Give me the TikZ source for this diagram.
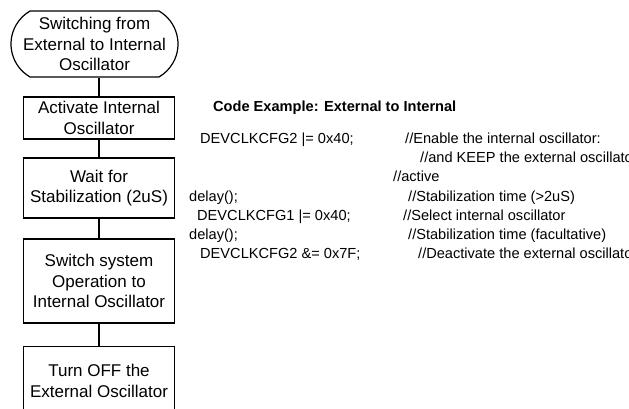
\documentclass[tikz,border=0pt]{standalone}
\usepackage{fontspec}
\setmainfont{Liberation Sans}
\usetikzlibrary{shapes.misc}
\begin{document}
\begin{tikzpicture}[x=1pt,y=-1pt,
  flow/.style={draw=black,line width=1.2pt,align=center,inner sep=0pt,
    minimum width=151pt,font=\fontsize{17}{20.5}\selectfont},
  term/.style={flow,rounded rectangle,rounded rectangle arc length=120,
    minimum width=167pt,minimum height=66pt},
  txt/.style={align=center,inner sep=0pt,font=\fontsize{17}{20.5}\selectfont},
  code/.style={anchor=base west,inner sep=0pt,font=\fontsize{14.6}{19}\selectfont},
  conn/.style={line width=1.2pt}]
\useasboundingbox (0,0) rectangle (629,409);
\clip (0,0) rectangle (629,409);
% flowchart
\node[term] (t) at (94.5,44) {Switching from\\External to Internal\\Oscillator};
\node[flow,minimum height=42pt] (b2) at (99,118) {Activate Internal\\Oscillator};
\node[flow,minimum height=60pt] (b3) at (99,188) {Wait for\\Stabilization (2uS)};
\node[flow,minimum height=84pt] (b4) at (99,281) {Switch system\\Operation to\\Internal Oscillator};
\node[flow,minimum height=90pt,anchor=north] (b5) at (99,346) {};
\node[txt] (b5t) at (99,381) {Turn OFF the\\External Oscillator};
\draw[conn] (b2.north |- t.south) -- (b2.north);
\draw[conn] (b2) -- (b3);
\draw[conn] (b3) -- (b4);
\draw[conn] (b4) -- (b5);
% code
\node[code,font=\fontsize{14.6}{19}\selectfont\bfseries] (h) at (213,112) {Code Example: External to Internal};
\node[code] (c1) at (200,144) {DEVCLKCFG2 |= 0x40;};
\node[code] (c4) at (189,201) {delay();};
\node[code] (c5) at (197,220) {DEVCLKCFG1 |= 0x40;};
\node[code] (c6) at (189,239) {delay();};
\node[code] (c7) at (200,258) {DEVCLKCFG2 \&= 0x7F;};
\node[code] (r1) at (405,144) {//Enable the internal oscillator:};
\node[code] (r2) at (420,163) {//and KEEP the external oscillator};
\node[code] (r3) at (393,182) {//active};
\node[code] (r4) at (408,201) {//Stabilization time (>2uS)};
\node[code] (r5) at (403,220) {//Select internal oscillator};
\node[code] (r6) at (408,239) {//Stabilization time (facultative)};
\node[code] (r7) at (418,258) {//Deactivate the external oscillator};
\end{tikzpicture}
\end{document}
